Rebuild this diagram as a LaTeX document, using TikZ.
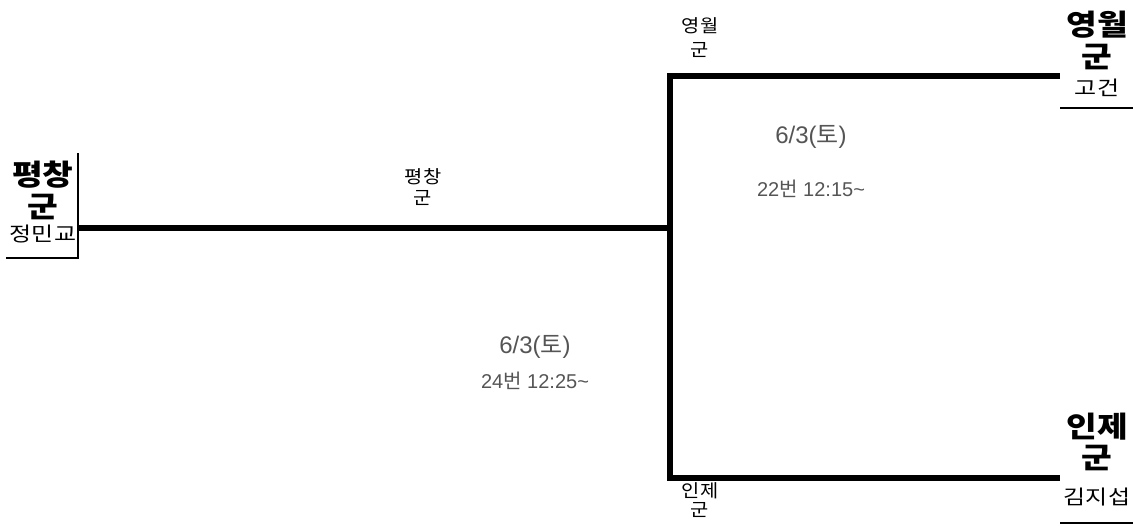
\documentclass[tikz,border=0pt]{standalone}
\usepackage{fontspec}
\setmainfont{Noto Sans CJK KR}
\newfontfamily\krwide[FakeStretch=1.15]{Noto Sans CJK KR}
\newfontfamily\krname[FakeStretch=1.2]{Noto Sans CJK KR}
\newfontfamily\krsmall[FakeStretch=1.1]{Noto Sans CJK KR}
\newfontfamily\latinf{Liberation Sans}
\definecolor{gtext}{RGB}{85,85,85}
\tikzset{
  thickln/.style={line width=6pt},
  thinln/.style={line width=1.5pt},
  bigteam/.style={font=\krwide\fontsize{29}{29}\selectfont\bfseries, inner sep=0pt},
  player/.style={font=\krname\fontsize{20}{20}\selectfont, inner sep=0pt},
  smalllab/.style={font=\krsmall\fontsize{18}{18}\selectfont, inner sep=0pt},
  datelab/.style={font=\latinf\fontsize{24}{24}\selectfont, text=gtext, inner sep=0pt},
  gamelab/.style={font=\latinf\fontsize{20}{20}\selectfont, text=gtext, inner sep=0pt}
}
\newcommand{\kr}[1]{{\fontspec{Noto Sans CJK KR}#1}}
\begin{document}
\begin{tikzpicture}[x=1pt,y=-1pt]
\useasboundingbox (0,0) rectangle (1133,527);
% left team box
\coordinate (lt) at (78,153);
\coordinate (lb) at (78,258);
\coordinate (ll) at (6,258);
\draw[thinln] (lt) -- (lb) -- (ll);
\node[bigteam] (p1) at (43,175) {평창};
\node[bigteam] (p2) at (43,207) {군};
\node[player] (p3) at (43,234) {정민교};
% bracket
\coordinate (a) at (78,227.5);
\coordinate (j) at (669.5,227.5);
\coordinate (tt) at (669.5,76.5);
\coordinate (bb) at (669.5,477.5);
\coordinate (tr) at (1060,76.5);
\coordinate (br) at (1060,477.5);
\draw[thickln] (a) -- (j);
\draw[thickln] (tr) -- (tt) -- (bb) -- (br);
% right top
\coordinate (rt1) at (1060,108);
\coordinate (rt2) at (1133,108);
\draw[thinln] (rt1) -- (rt2);
\node[bigteam] (y1) at (1097,25) {영월};
\node[bigteam] (y2) at (1097,57) {군};
\node[player] (y3) at (1097,88) {고건};
% right bottom
\coordinate (rb1) at (1060,523);
\coordinate (rb2) at (1133,523);
\draw[thinln] (rb1) -- (rb2);
\node[bigteam] (i1) at (1097,427) {인제};
\node[bigteam] (i2) at (1097,458) {군};
\node[player] (i3) at (1097,497) {김지섭};
% small labels
\node[smalllab] (sy1) at (700,26) {영월};
\node[smalllab] (sy2) at (700,50) {군};
\node[smalllab] (sp1) at (423,177) {평창};
\node[smalllab] (sp2) at (423,198) {군};
\node[smalllab] (si1) at (700,491) {인제};
\node[smalllab] (si2) at (700,510) {군};
% dates
\node[datelab] (d1) at (811,137) {6/3(\kr{토})};
\node[gamelab] (g1) at (811,189) {22\kr{번} 12:15\textasciitilde};
\node[datelab] (d2) at (535,347) {6/3(\kr{토})};
\node[gamelab] (g2) at (535,381) {24\kr{번} 12:25\textasciitilde};
\end{tikzpicture}
\end{document}
